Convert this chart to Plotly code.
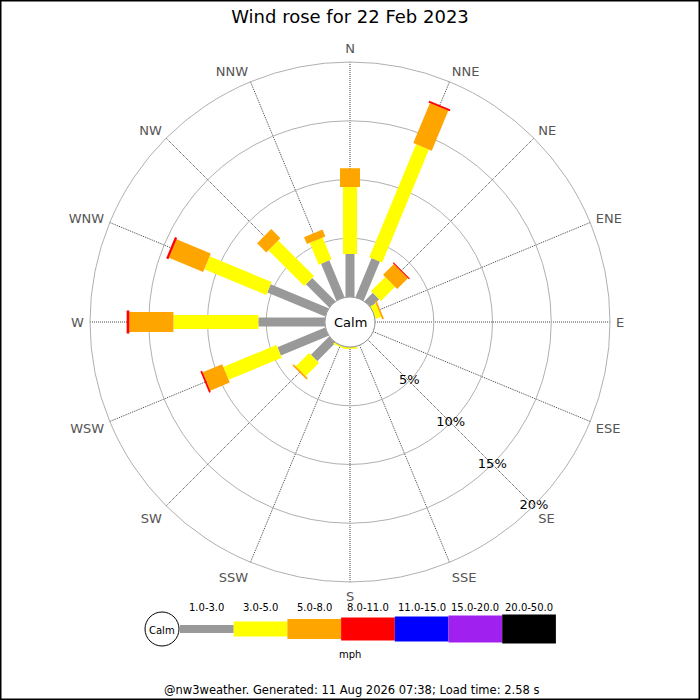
import plotly.graph_objects as go

directions = ['N', 'NNE', 'NE', 'ENE', 'E', 'ESE', 'SE', 'SSE',
              'S', 'SSW', 'SW', 'WSW', 'W', 'WNW', 'NW', 'NNW']
bin_labels = ['1.0-3.0', '3.0-5.0', '5.0-8.0', '8.0-11.0',
              '11.0-15.0', '15.0-20.0', '20.0-50.0']
bin_colors = ['#999999', '#ffff00', '#ffa500', '#ff0000',
              '#0000ff', '#a020f0', '#000000']

# percentage frequency per direction for each speed bin
pct_1_3 = [3.66, 3.6, 1.0, 0, 0, 0, 0, 0, 0, 0, 2.2, 4.4, 5.67, 5.34, 2.8, 3.4]
pct_3_5 = [5.7, 10.4, 1.7, 0.5, 0, 0, 0, 0, 0.15, 0.15, 1.6, 4.9, 7.23, 5.71, 4.3, 2.0]
pct_5_8 = [1.6, 3.7, 1.3, 0.15, 0, 0, 0, 0, 0, 0, 0.15, 1.8, 3.75, 3.15, 1.1, 0.64]
pct_8_11 = [0, 0.15, 0.1, 0, 0, 0, 0, 0, 0, 0, 0, 0.15, 0.23, 0.2, 0, 0]
pct_11_15 = [0] * 16
pct_15_20 = [0] * 16
pct_20_50 = [0] * 16
series = [pct_1_3, pct_3_5, pct_5_8, pct_8_11, pct_11_15, pct_15_20, pct_20_50]

ring_vals = [5, 10, 15, 20]
ring_text = ['5%', '10%', '15%', '20%']

title_text = 'Wind rose for 22 Feb 2023'
footer_text = '@nw3weather. Generated: 11 Aug 2026 07:38; Load time: 2.58 s'

FONT = 'DejaVu Sans'
W = H = 700
bar_widths = [9, 14, 20, 23, 25, 27, 29]

fig = go.Figure()

cum = [0.0] * len(directions)
for k, vals in enumerate(series):
    th, rr = [], []
    for i, d in enumerate(directions):
        v = vals[i]
        if v > 0:
            th += [d, d, None]
            rr += [cum[i], cum[i] + v, None]
        cum[i] += v
    if th:
        fig.add_trace(go.Scatterpolar(
            theta=th, r=rr, mode='lines', connectgaps=False,
            line=dict(color=bin_colors[k], width=bar_widths[k]),
            hoverinfo='skip', showlegend=False))

fig.add_trace(go.Scatterpolar(
    theta=['SE'] * len(ring_vals), r=ring_vals, mode='text', text=ring_text,
    textfont=dict(family=FONT, size=13, color='#000000'),
    cliponaxis=False, hoverinfo='skip', showlegend=False))

cx, cy = 350, 322
R = 260
hole_px = 25

def px(x):
    return x / W

def py(y):
    return 1 - y / H

fig.update_layout(
    width=W, height=H,
    margin=dict(l=0, r=0, t=0, b=0),
    paper_bgcolor='white',
    plot_bgcolor='white',
    showlegend=False,
    font=dict(family=FONT),
    polar=dict(
        domain=dict(x=[px(cx - R), px(cx + R)], y=[py(cy + R), py(cy - R)]),
        hole=hole_px / R,
        bgcolor='white',
        angularaxis=dict(
            type='category',
            categoryarray=directions,
            direction='clockwise', rotation=90,
            showgrid=True, gridcolor='#444444', gridwidth=1, griddash='1px,1px',
            showline=True, linecolor='#b0b0b0', linewidth=1,
            ticks='outside', ticklen=3, tickcolor='rgba(0,0,0,0)',
            tickfont=dict(family=FONT, size=13, color='#555555'),
        ),
        radialaxis=dict(
            range=[0, 20], tickvals=ring_vals,
            showticklabels=False, ticks='',
            showgrid=True, gridcolor='#b0b0b0', gridwidth=1,
            showline=False,
        ),
    ),
    title=dict(text=title_text, x=0.5, xanchor='center', y=py(17), yanchor='middle',
               font=dict(family=FONT, size=18, color='#000000')),
)

shapes = []
annotations = []

def note(text, x, y, size):
    annotations.append(dict(text=text, x=px(x), y=py(y), xref='paper', yref='paper',
                            xanchor='center', yanchor='middle', showarrow=False,
                            font=dict(family=FONT, size=size, color='#000000')))

# central calm circle
shapes.append(dict(type='circle', xref='paper', yref='paper',
                   x0=px(cx - hole_px), x1=px(cx + hole_px),
                   y0=py(cy + hole_px), y1=py(cy - hole_px),
                   fillcolor='white', line=dict(color='#999999', width=1)))
note('Calm', cx, cy, 13)

# legend
leg_y = 629
leg_x0 = 180
leg_w = 53.7
leg_heights = [8, 15, 20, 23, 25, 27, 29]
shapes.append(dict(type='circle', xref='paper', yref='paper',
                   x0=px(145), x1=px(179), y0=py(leg_y + 17), y1=py(leg_y - 17),
                   fillcolor='white', line=dict(color='#000000', width=1)))
note('Calm', 162, leg_y + 1, 10)
for k, lab in enumerate(bin_labels):
    x0 = leg_x0 + k * leg_w
    hh = leg_heights[k] / 2
    shapes.append(dict(type='rect', xref='paper', yref='paper',
                       x0=px(x0), x1=px(x0 + leg_w), y0=py(leg_y + hh), y1=py(leg_y - hh),
                       fillcolor=bin_colors[k], line=dict(width=0)))
    note(lab, x0 + leg_w / 2, 607, 10)
note('mph', 350, 654, 10)
note(footer_text, 351, 690, 11.5)

# frame
shapes.append(dict(type='rect', xref='paper', yref='paper', x0=0, x1=1, y0=0, y1=1,
                   line=dict(color='#000000', width=3), fillcolor='rgba(0,0,0,0)'))

fig.update_layout(shapes=shapes, annotations=annotations)

fig.write_html('out.html', post_script="document.body.style.margin='0';",
               config={'displayModeBar': False})
